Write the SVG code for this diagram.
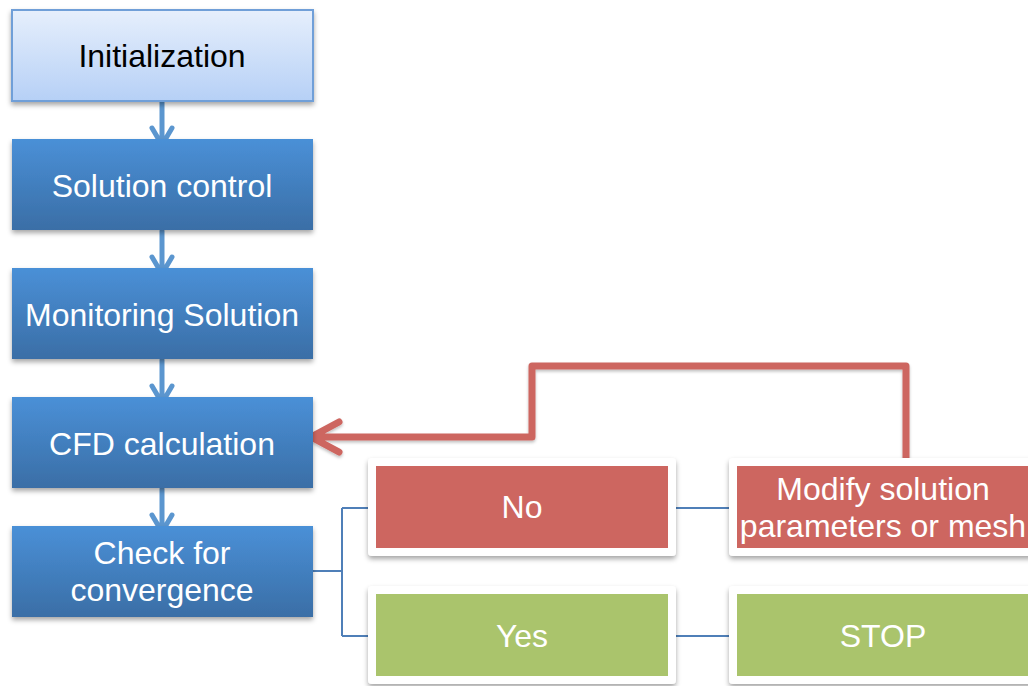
<svg xmlns="http://www.w3.org/2000/svg" width="1028" height="686" viewBox="0 0 1028 686">
  <defs>
    <linearGradient id="gBlue" x1="0" y1="0" x2="0" y2="1">
      <stop offset="0" stop-color="#4a90d7"/>
      <stop offset="1" stop-color="#3a6ea6"/>
    </linearGradient>
    <linearGradient id="gLight" x1="0" y1="0" x2="0" y2="1">
      <stop offset="0" stop-color="#e6effc"/>
      <stop offset="1" stop-color="#b6d0f6"/>
    </linearGradient>
    <filter id="shadow" x="-10%" y="-10%" width="120%" height="130%">
      <feDropShadow dx="0" dy="3" stdDeviation="2.5" flood-color="#000" flood-opacity="0.35"/>
    </filter>
    <filter id="lineShadow" x="-5%" y="-5%" width="110%" height="120%">
      <feDropShadow dx="0" dy="2" stdDeviation="1.5" flood-color="#000" flood-opacity="0.25"/>
    </filter>
  </defs>
  <style>
    text { font-family: "Liberation Sans", Arial, sans-serif; font-size: 32px; text-anchor: middle; }
    .light { fill: #ffffff; }
    .dark { fill: #000000; }
    .step { fill: url(#gBlue); filter: url(#shadow); }
    .frame { fill: #ffffff; filter: url(#shadow); }
    .red { fill: #cd6660; }
    .green { fill: #aac46c; }
    .flow { stroke: #5b96cf; stroke-width: 5; fill: none; stroke-linecap: round; stroke-linejoin: round; }
    .tree { stroke: #4f7fb8; stroke-width: 2; fill: none; }
    .loop { stroke: #cd6660; stroke-width: 7; fill: none; stroke-linecap: round; stroke-linejoin: round; filter: url(#lineShadow); }
  </style>

  <rect width="1028" height="686" fill="#ffffff"/>

  <!-- connectors -->
  <g id="connectors">
    <!-- vertical flow arrows -->
    <path class="flow" d="M162,102 V145 M152,128 L162,145 L172,128"/>
    <path class="flow" d="M162,231 V274 M152,257 L162,274 L172,257"/>
    <path class="flow" d="M162,360 V403 M152,386 L162,403 L172,386"/>
    <path class="flow" d="M162,489 V532 M152,515 L162,532 L172,515"/>
    <!-- branch to No / Yes -->
    <path class="tree" d="M313,571 H342 M342,508 V636 M342,508 H368 M342,636 H368"/>
    <path class="tree" d="M676,508 H729"/>
    <path class="tree" d="M676,636 H729"/>
    <!-- feedback loop -->
    <path class="loop" d="M906,460 V366 H532 V437 H312 M339,422 L311,437 L339,452"/>
  </g>

  <g id="initialization">
    <rect x="12" y="10" width="301" height="91" fill="url(#gLight)" stroke="#6f9fd8" stroke-width="2" filter="url(#shadow)"/>
    <text class="dark" x="162" y="67">Initialization</text>
  </g>

  <g id="solution-control">
    <rect class="step" x="12" y="139" width="301" height="91"/>
    <text class="light" x="162" y="197">Solution control</text>
  </g>

  <g id="monitoring-solution">
    <rect class="step" x="12" y="268" width="301" height="91"/>
    <text class="light" x="162" y="326">Monitoring Solution</text>
  </g>

  <g id="cfd-calculation">
    <rect class="step" x="12" y="397" width="301" height="91"/>
    <text class="light" x="162" y="455">CFD calculation</text>
  </g>

  <g id="check-convergence">
    <rect class="step" x="12" y="526" width="301" height="91"/>
    <text class="light" x="162" y="564">Check for</text>
    <text class="light" x="162" y="601">convergence</text>
  </g>

  <g id="no">
    <rect class="frame" x="368" y="458" width="308" height="98" rx="4"/>
    <rect class="red" x="376" y="466" width="292" height="82"/>
    <text class="light" x="522" y="518">No</text>
  </g>

  <g id="modify">
    <rect class="frame" x="729" y="458" width="320" height="98" rx="4"/>
    <rect class="red" x="737" y="466" width="300" height="82"/>
    <text class="light" x="883" y="500">Modify solution</text>
    <text class="light" x="883" y="537">parameters or mesh</text>
  </g>

  <g id="yes">
    <rect class="frame" x="368" y="586" width="308" height="98" rx="4"/>
    <rect class="green" x="376" y="594" width="292" height="82"/>
    <text class="light" x="522" y="647">Yes</text>
  </g>

  <g id="stop">
    <rect class="frame" x="729" y="586" width="320" height="98" rx="4"/>
    <rect class="green" x="737" y="594" width="300" height="82"/>
    <text class="light" x="883" y="647">STOP</text>
  </g>
</svg>
